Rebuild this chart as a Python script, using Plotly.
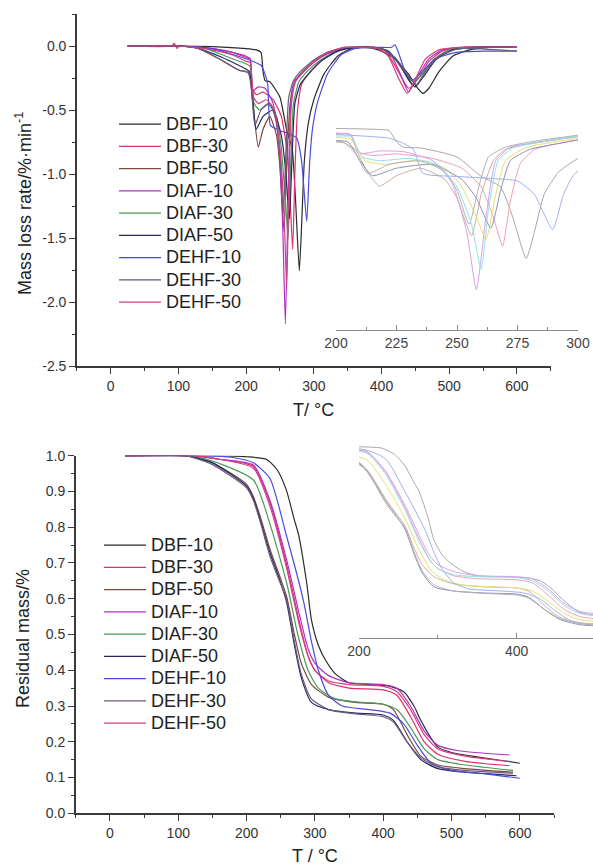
import plotly.graph_objects as go

W, H = 593, 867

series_names = ["DBF-10", "DBF-30", "DBF-50", "DIAF-10", "DIAF-30",
                "DIAF-50", "DEHF-10", "DEHF-30", "DEHF-50"]
main_colors = ["#2b2b2b", "#e0306a", "#7a4a3a", "#b030c8", "#4a9a5a",
               "#262660", "#4a4ae0", "#6a5a7a", "#d04080"]
inset_colors = ["#a8a8a8", "#f0a0b8", "#c8b0a0", "#d8a0e8", "#e6e070",
                "#9090b0", "#a0b0f0", "#b0b0b8", "#90e0e8"]

# ---------------- DTG (mass loss rate, %/min) ----------------
dtg_T_DBF10 = [25, 60, 100, 150, 200, 215, 222, 225, 228, 235, 250, 260, 268, 273, 278.6, 282, 286, 292, 300, 315, 335, 355, 380, 400, 420, 440, 452, 461, 470, 485, 505, 530, 560, 600]
dtg_V_DBF10 = [0, 0, 0, -0.005, -0.02, -0.03, -0.05, -0.2, -0.27, -0.28, -0.4, -0.66, -0.8, -1.2, -1.755, -1.4, -0.9, -0.6, -0.42, -0.22, -0.08, -0.02, -0.01, -0.04, -0.1, -0.22, -0.32, -0.37, -0.33, -0.2, -0.08, -0.03, -0.01, -0.01]

dtg_T_DBF30 = [25, 90, 94, 98, 102, 108, 150, 180, 200, 206, 209, 215, 225, 240, 252, 260, 265, 268.8, 272, 276, 282, 295, 315, 340, 360, 390, 410, 425, 440, 455, 470, 490, 520, 600]
dtg_V_DBF30 = [0, 0, 0.02, -0.02, 0.005, 0, -0.02, -0.05, -0.09, -0.1, -0.33, -0.38, -0.36, -0.42, -0.55, -0.8, -1.2, -1.59, -1.0, -0.5, -0.3, -0.2, -0.1, -0.03, -0.01, -0.01, -0.07, -0.2, -0.33, -0.25, -0.12, -0.04, -0.01, -0.01]

dtg_T_DBF50 = [25, 100, 130, 160, 190, 203, 208, 213, 218, 225, 235, 245, 250, 256, 260, 265, 270, 280, 300, 320, 345, 370, 400, 420, 435, 445, 460, 480, 510, 600]
dtg_V_DBF50 = [0, 0, -0.02, -0.1, -0.19, -0.21, -0.3, -0.6, -0.79, -0.65, -0.55, -0.7, -0.95, -1.45, -0.9, -0.45, -0.3, -0.22, -0.12, -0.06, -0.02, -0.01, -0.02, -0.1, -0.22, -0.3, -0.22, -0.1, -0.02, -0.01]

dtg_T_DIAF10 = [25, 100, 150, 180, 200, 206, 210, 218, 228, 240, 248, 254, 258, 262, 266, 272, 285, 300, 320, 345, 370, 400, 415, 428, 440, 452, 470, 490, 520, 600]
dtg_V_DIAF10 = [0, 0, -0.02, -0.05, -0.08, -0.1, -0.35, -0.32, -0.33, -0.45, -0.75, -1.4, -2.17, -1.2, -0.45, -0.27, -0.2, -0.13, -0.06, -0.02, -0.01, -0.02, -0.08, -0.22, -0.36, -0.25, -0.1, -0.03, -0.01, -0.01]

dtg_T_DIAF30 = [25, 100, 140, 170, 200, 206, 212, 220, 232, 245, 252, 258, 262, 266, 270, 278, 290, 310, 330, 355, 380, 405, 425, 438, 448, 460, 478, 500, 530, 600]
dtg_V_DIAF30 = [0, 0, -0.02, -0.08, -0.14, -0.16, -0.45, -0.5, -0.45, -0.55, -0.8, -1.2, -1.5, -0.9, -0.45, -0.28, -0.2, -0.11, -0.05, -0.01, -0.01, -0.03, -0.13, -0.24, -0.28, -0.22, -0.1, -0.03, -0.01, -0.01]

dtg_T_DIAF50 = [25, 100, 130, 165, 200, 205, 210, 215, 225, 240, 252, 258, 264, 268, 272, 280, 292, 310, 335, 360, 390, 410, 428, 440, 450, 462, 480, 505, 540, 600]
dtg_V_DIAF50 = [0, 0, -0.02, -0.09, -0.18, -0.2, -0.45, -0.65, -0.55, -0.5, -0.7, -0.95, -1.35, -0.85, -0.45, -0.3, -0.22, -0.12, -0.04, -0.01, -0.01, -0.04, -0.15, -0.26, -0.32, -0.24, -0.11, -0.03, -0.01, -0.01]

dtg_T_DEHF10 = [25, 100, 150, 200, 222, 228, 232, 236, 250, 265, 275, 282, 289.5, 294, 298, 305, 320, 340, 360, 390, 415, 420, 425, 435, 445, 460, 480, 510, 550, 600]
dtg_V_DEHF10 = [0, 0, -0.02, -0.1, -0.15, -0.22, -0.3, -0.62, -0.66, -0.69, -0.72, -0.9, -1.37, -0.9, -0.65, -0.45, -0.22, -0.07, -0.02, -0.01, -0.01, 0.01, -0.05, -0.2, -0.27, -0.2, -0.1, -0.05, -0.04, -0.04]

dtg_T_DEHF30 = [25, 100, 130, 160, 190, 203, 208, 213, 222, 235, 245, 250, 255, 259, 263, 270, 280, 300, 320, 345, 370, 400, 420, 435, 445, 452, 465, 485, 515, 600]
dtg_V_DEHF30 = [0, 0, -0.02, -0.1, -0.19, -0.2, -0.35, -0.62, -0.5, -0.45, -0.6, -0.85, -1.3, -0.8, -0.4, -0.27, -0.2, -0.11, -0.05, -0.01, -0.01, -0.02, -0.09, -0.2, -0.27, -0.3, -0.2, -0.08, -0.02, -0.04]

dtg_T_DEHF50 = [25, 100, 150, 180, 200, 206, 211, 218, 230, 242, 250, 256, 260, 263, 267, 273, 285, 300, 320, 345, 370, 395, 410, 425, 438, 450, 465, 485, 515, 600]
dtg_V_DEHF50 = [0, 0, -0.03, -0.07, -0.12, -0.13, -0.4, -0.45, -0.42, -0.5, -0.8, -1.3, -1.9, -1.1, -0.45, -0.28, -0.2, -0.12, -0.05, -0.01, -0.01, -0.02, -0.08, -0.25, -0.37, -0.26, -0.1, -0.03, -0.01, -0.01]

# ---------------- TG (residual mass fraction) ----------------
tg_T_DBF10 = [22, 150, 200, 229, 245, 258, 270, 276, 288, 295, 305, 315, 330, 350, 380, 410, 430, 445, 455, 470, 480, 500, 530, 600]
tg_V_DBF10 = [1.0, 1.0, 0.997, 0.99, 0.96, 0.905, 0.82, 0.78, 0.644, 0.54, 0.47, 0.43, 0.39, 0.365, 0.36, 0.355, 0.34, 0.3, 0.26, 0.21, 0.185, 0.17, 0.16, 0.14]

tg_T_DBF30 = [22, 120, 160, 210, 234, 258, 278, 290, 300, 320, 350, 400, 420, 440, 460, 480, 520, 585]
tg_V_DBF30 = [1.0, 1.0, 0.99, 0.97, 0.87, 0.7, 0.53, 0.44, 0.4, 0.365, 0.35, 0.345, 0.33, 0.27, 0.2, 0.165, 0.145, 0.133]

tg_T_DBF50 = [22, 110, 150, 200, 210, 220, 234, 249, 258.7, 270, 280, 295, 320, 360, 400, 415, 435, 455, 480, 520, 590]
tg_V_DBF50 = [1.0, 1.0, 0.98, 0.92, 0.885, 0.83, 0.74, 0.66, 0.606, 0.5, 0.42, 0.36, 0.325, 0.31, 0.305, 0.29, 0.22, 0.16, 0.135, 0.125, 0.115]

tg_T_DIAF10 = [22, 120, 160, 210, 234, 258.7, 278, 290, 300, 320, 350, 400, 420, 440, 460, 480, 510, 585]
tg_V_DIAF10 = [1.0, 1.0, 0.99, 0.974, 0.876, 0.708, 0.55, 0.46, 0.42, 0.385, 0.365, 0.36, 0.35, 0.3, 0.23, 0.19, 0.175, 0.163]

tg_T_DIAF30 = [22, 110, 150, 210, 234, 258.7, 275, 290, 305, 330, 370, 400, 420, 440, 460, 480, 520, 590]
tg_V_DIAF30 = [1.0, 1.0, 0.985, 0.932, 0.81, 0.644, 0.5, 0.4, 0.35, 0.32, 0.31, 0.305, 0.29, 0.24, 0.18, 0.15, 0.135, 0.12]

tg_T_DIAF50 = [22, 110, 150, 200, 210, 220, 234, 249, 258.7, 270, 280, 295, 320, 360, 400, 415, 435, 455, 480, 520, 595]
tg_V_DIAF50 = [1.0, 1.0, 0.98, 0.915, 0.88, 0.82, 0.73, 0.65, 0.59, 0.47, 0.38, 0.31, 0.29, 0.28, 0.275, 0.26, 0.2, 0.15, 0.125, 0.115, 0.105]

tg_T_DEHF10 = [22, 130, 180, 210, 234, 258.7, 283, 295, 305, 320, 340, 380, 410, 430, 450, 470, 500, 550, 600]
tg_V_DEHF10 = [1.0, 1.0, 0.995, 0.98, 0.937, 0.774, 0.596, 0.48, 0.4, 0.33, 0.3, 0.29, 0.28, 0.25, 0.19, 0.14, 0.12, 0.11, 0.098]

tg_T_DEHF30 = [22, 110, 150, 200, 210, 220, 234, 249, 258.7, 270, 280, 295, 320, 360, 400, 415, 435, 455, 480, 520, 590]
tg_V_DEHF30 = [1.0, 1.0, 0.975, 0.91, 0.875, 0.815, 0.72, 0.645, 0.6, 0.48, 0.39, 0.32, 0.29, 0.278, 0.27, 0.255, 0.2, 0.155, 0.13, 0.12, 0.112]

tg_T_DEHF50 = [22, 120, 160, 210, 234, 258, 278, 290, 300, 320, 350, 400, 420, 440, 460, 480, 520, 585]
tg_V_DEHF50 = [1.0, 1.0, 0.99, 0.965, 0.86, 0.69, 0.52, 0.44, 0.4, 0.37, 0.36, 0.355, 0.34, 0.29, 0.22, 0.18, 0.16, 0.145]

# ---------------- ticks ----------------
x_tick_vals = [0, 100, 200, 300, 400, 500, 600]
x_tick_text = ["0", "100", "200", "300", "400", "500", "600"]
x_minor_vals = [-50, 50, 150, 250, 350, 450, 550, 650]
dtg_tick_vals = [-2.5, -2.0, -1.5, -1.0, -0.5, 0.0]
dtg_tick_text = ["-2.5", "-2.0", "-1.5", "-1.0", "-0.5", "0.0"]
dtg_minor_vals = [-2.25, -1.75, -1.25, -0.75, -0.25, 0.25]
tg_tick_vals = [0.0, 0.1, 0.2, 0.3, 0.4, 0.5, 0.6, 0.7, 0.8, 0.9, 1.0]
tg_tick_text = ["0.0", "0.1", "0.2", "0.3", "0.4", "0.5", "0.6", "0.7", "0.8", "0.9", "1.0"]
tg_minor_vals = [0.05, 0.15, 0.25, 0.35, 0.45, 0.55, 0.65, 0.75, 0.85, 0.95]
inset1_tick_vals = [200, 225, 250, 275, 300]
inset1_minor_vals = [212.5, 237.5, 262.5, 287.5]
inset2_tick_vals = [200, 400]
inset2_minor_vals = [300]

dtg_T = [dtg_T_DBF10, dtg_T_DBF30, dtg_T_DBF50, dtg_T_DIAF10, dtg_T_DIAF30,
         dtg_T_DIAF50, dtg_T_DEHF10, dtg_T_DEHF30, dtg_T_DEHF50]
dtg_V = [dtg_V_DBF10, dtg_V_DBF30, dtg_V_DBF50, dtg_V_DIAF10, dtg_V_DIAF30,
         dtg_V_DIAF50, dtg_V_DEHF10, dtg_V_DEHF30, dtg_V_DEHF50]
tg_T = [tg_T_DBF10, tg_T_DBF30, tg_T_DBF50, tg_T_DIAF10, tg_T_DIAF30,
        tg_T_DIAF50, tg_T_DEHF10, tg_T_DEHF30, tg_T_DEHF50]
tg_V = [tg_V_DBF10, tg_V_DBF30, tg_V_DBF50, tg_V_DIAF10, tg_V_DIAF30,
        tg_V_DIAF50, tg_V_DEHF10, tg_V_DEHF30, tg_V_DEHF50]

FONT = "Liberation Sans, Arial, sans-serif"
LEG_TXT = '<span style="font-size:18px">{}</span>'

fig = go.Figure()
for i, name in enumerate(series_names):
    # inset copies first (drawn underneath)
    fig.add_trace(go.Scatter(x=dtg_T[i], y=dtg_V[i], mode="lines", xaxis="x3", yaxis="y3",
                             line=dict(color=inset_colors[i], width=1, shape="spline", smoothing=0.5),
                             showlegend=False, hoverinfo="skip"))
    fig.add_trace(go.Scatter(x=tg_T[i], y=tg_V[i], mode="lines", xaxis="x4", yaxis="y4",
                             line=dict(color=inset_colors[i], width=1, shape="spline", smoothing=0.6),
                             showlegend=False, hoverinfo="skip"))
for i, name in enumerate(series_names):
    fig.add_trace(go.Scatter(x=dtg_T[i], y=dtg_V[i], mode="lines", name=LEG_TXT.format(name),
                             xaxis="x", yaxis="y",
                             line=dict(color=main_colors[i], width=1.2, shape="spline", smoothing=0.5),
                             legend="legend"))
for i, name in enumerate(series_names):
    fig.add_trace(go.Scatter(x=tg_T[i], y=tg_V[i], mode="lines", name=LEG_TXT.format(name),
                             xaxis="x2", yaxis="y2",
                             line=dict(color=main_colors[i], width=1.2, shape="spline", smoothing=0.6),
                             legend="legend2"))

def px2fx(px):
    return px / W

def py2fy(py):
    return (H - py) / H

axis_common = dict(showgrid=False, zeroline=False, showline=True, linecolor="#3a3a3a", linewidth=1.5,
                   ticks="outside", ticklen=6, tickwidth=1.3, tickcolor="#3a3a3a", automargin=False,
                   tickfont=dict(family=FONT, size=14, color="#333333"), tickmode="array")

inset_x_common = dict(showgrid=False, zeroline=False, showline=True, linecolor="#8a8a8a", linewidth=1,
                      ticks="inside", ticklen=5, tickcolor="#8a8a8a", tickmode="array", automargin=False,
                      tickfont=dict(family=FONT, size=14, color="#444444"))

title_font = dict(family=FONT, size=18, color="#222222")

fig.update_layout(
    width=W, height=H, margin=dict(l=0, r=0, t=0, b=0, autoexpand=False),
    paper_bgcolor="white", plot_bgcolor="rgba(0,0,0,0)",
    font=dict(family=FONT, color="#222222"),
    xaxis=dict(domain=[px2fx(76.9), px2fx(550.7)], anchor="y", range=[-50, 650],
               tickvals=x_tick_vals, ticktext=x_tick_text,
               minor=dict(tickvals=x_minor_vals, ticks="outside", ticklen=3, tickcolor="#3a3a3a"),
               **axis_common),
    yaxis=dict(domain=[py2fy(366), py2fy(14)], anchor="x", range=[-2.5, 0.25],
               tickvals=dtg_tick_vals, ticktext=dtg_tick_text,
               minor=dict(tickvals=dtg_minor_vals, ticks="outside", ticklen=3, tickcolor="#3a3a3a"),
               **axis_common),
    xaxis2=dict(domain=[px2fx(75.8), px2fx(554)], anchor="y2", range=[-50, 650],
                tickvals=x_tick_vals, ticktext=x_tick_text,
                minor=dict(tickvals=x_minor_vals, ticks="outside", ticklen=3, tickcolor="#3a3a3a"),
                **axis_common),
    yaxis2=dict(domain=[py2fy(813.3), py2fy(455.7)], anchor="x2", range=[0, 1.0],
                tickvals=tg_tick_vals, ticktext=tg_tick_text,
                minor=dict(tickvals=tg_minor_vals, ticks="outside", ticklen=3, tickcolor="#3a3a3a"),
                **axis_common),
    xaxis3=dict(domain=[px2fx(336), px2fx(578)], anchor="y3", range=[200, 300],
                tickvals=inset1_tick_vals, ticktext=[str(v) for v in inset1_tick_vals],
                minor=dict(tickvals=inset1_minor_vals, ticks="inside", ticklen=3, tickcolor="#8a8a8a"),
                **inset_x_common),
    yaxis3=dict(domain=[py2fy(330), py2fy(115)], anchor="x3", range=[-2.71, 0.16], visible=False),
    xaxis4=dict(domain=[px2fx(359), px2fx(593)], anchor="y4", range=[200, 496.8],
                tickvals=inset2_tick_vals, ticktext=[str(v) for v in inset2_tick_vals],
                minor=dict(tickvals=inset2_minor_vals, ticks="inside", ticklen=3, tickcolor="#8a8a8a"),
                **inset_x_common),
    yaxis4=dict(domain=[py2fy(637.7), py2fy(440)], anchor="x4", range=[0.061, 1.03], visible=False),
    legend=dict(x=px2fx(114), y=py2fy(108), xanchor="left", yanchor="top",
                font=dict(family=FONT, size=14.8, color="#222222"), bgcolor="rgba(0,0,0,0)",
                itemwidth=42, tracegroupgap=0),
    legend2=dict(x=px2fx(99), y=py2fy(529), xanchor="left", yanchor="top",
                 font=dict(family=FONT, size=14.8, color="#222222"), bgcolor="rgba(0,0,0,0)",
                 itemwidth=42, tracegroupgap=0),
    annotations=[
        dict(text="T/ °C", x=px2fx(313), y=py2fy(410), xref="paper", yref="paper",
             xanchor="center", yanchor="middle", showarrow=False, font=title_font),
        dict(text="T / °C", x=px2fx(315), y=py2fy(856), xref="paper", yref="paper",
             xanchor="center", yanchor="middle", showarrow=False, font=title_font),
        dict(text="Mass loss rate/%·min<sup>-1</sup>", x=px2fx(23), y=py2fy(204), xref="paper", yref="paper",
             xanchor="center", yanchor="middle", showarrow=False, textangle=-90, font=title_font),
        dict(text="Residual mass/%", x=px2fx(23), y=py2fy(639), xref="paper", yref="paper",
             xanchor="center", yanchor="middle", showarrow=False, textangle=-90, font=title_font),
    ],
)

fig.write_html("out.html", config={"displayModeBar": False},
               post_script="document.body.style.margin='0';document.body.style.overflow='hidden';")
